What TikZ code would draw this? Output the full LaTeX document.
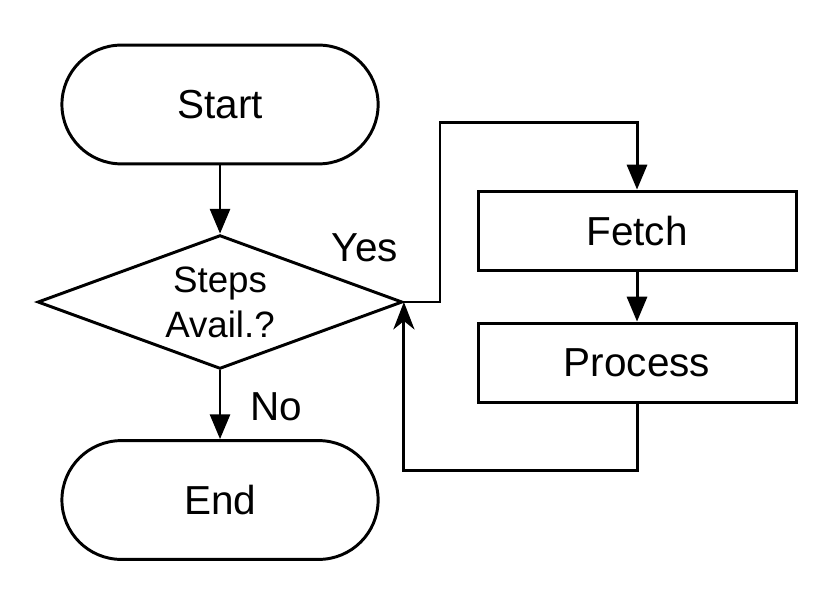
\documentclass[tikz,border=0pt]{standalone}
\usepackage{fontspec}
\setmainfont{Liberation Sans}
\usetikzlibrary{shapes.geometric, arrows.meta}

\tikzset{
  terminal/.style={draw, rectangle, rounded corners=0.99cm, minimum width=5.27cm,
    minimum height=1.98cm, inner sep=0pt, font=\fontsize{19.2}{22}\selectfont},
  stepbox/.style={draw, rectangle, minimum width=5.3cm, minimum height=1.33cm,
    inner sep=0pt, font=\fontsize{19.2}{22}\selectfont},
  decision/.style={draw, diamond, aspect=2.72, minimum width=6.08cm, minimum height=2.23cm,
    inner sep=0pt, align=center, font=\fontsize{17.4}{21.3}\selectfont},
  lbl/.style={font=\fontsize{19.2}{22}\selectfont}
}

\begin{document}
\begin{tikzpicture}[line width=1.4pt, >={Triangle[length=11.8pt, width=9.5pt]}]
\useasboundingbox (0,0) rectangle (14,9.9167);

% Left column
\node[terminal] (start) at (3.667,8.175) {Start};
\node[decision] (dec) at (3.667,4.883) {Steps\\Avail.?};
\node[terminal] (end) at (3.667,1.583) {End};

% Right column
\node[stepbox] (fetch) at (10.617,6.067) {Fetch};
\node[stepbox] (proc) at (10.617,3.867) {Process};

% Corners of the loop
\coordinate (ytop) at (7.333,7.867);
\coordinate (ybot) at (10.617,2.067);

% Labels
\node[lbl] (yes) at (6.083,5.783) {Yes};
\node[lbl] (no) at (4.6,3.133) {No};

% Arrows
\draw[->] (start) -- (dec);
\draw[->] (dec) -- (end);
\draw[->] (dec.east) -| (ytop) -| (fetch.north);
\draw[->] (fetch) -- (proc);
\draw[-{Stealth[length=13pt, width=10pt, inset=4pt]}] (proc.south) -- (ybot) -| (dec.east);

\end{tikzpicture}
\end{document}
